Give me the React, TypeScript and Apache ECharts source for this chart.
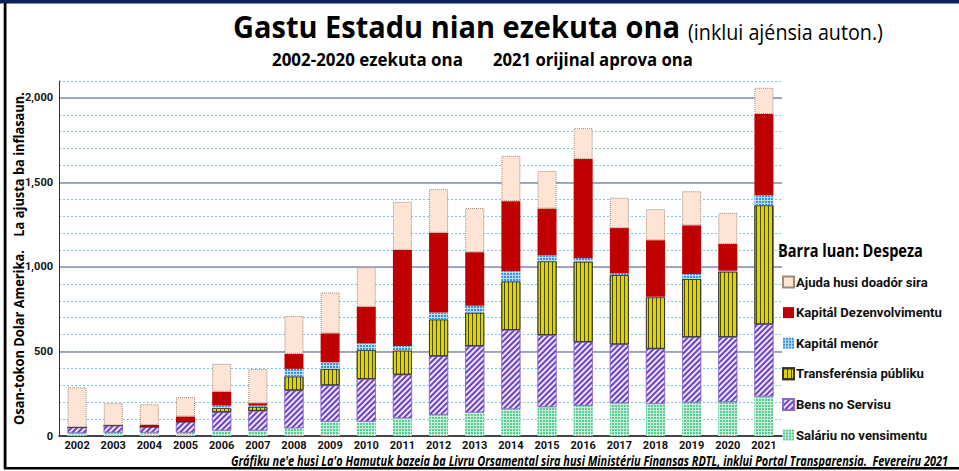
import React, { useEffect, useRef } from "react";
import * as echarts from "echarts";

const years = ["2002","2003","2004","2005","2006","2007","2008","2009","2010","2011","2012","2013","2014","2015","2016","2017","2018","2019","2020","2021"];
const salary = [17,20,20,20,32,32,46,85,85,105,125,139,159,171,179,194,190,198,200,234];
const goods = [34,42,35,65,109,117,224,215,252,258,347,393,468,426,377,348,326,387,385,427];
const transfers = [0,0,0,0,24,24,83,97,171,143,218,198,288,437,476,410,305,344,388,704];
const minorCapital = [0,0,0,0,15,7,44,39,40,26,40,40,59,35,20,10,3,29,5,59];
const devCapital = [0,0,10,30,82,14,89,171,216,569,472,317,415,276,587,268,334,288,158,481];
const donor = [237,132,123,115,165,203,224,242,234,284,258,262,268,223,182,179,184,202,184,155];

const seriesNames = {
  salary: "Saláriu no vensimentu",
  goods: "Bens no Servisu",
  transfers: "Transferénsia públiku",
  minor: "Kapitál menór",
  dev: "Kapitál Dezenvolvimentu",
  donor: "Ajuda husi doadór sira",
};
const legendOrder = [seriesNames.donor, seriesNames.dev, seriesNames.minor, seriesNames.transfers, seriesNames.goods, seriesNames.salary];

const TITLE_FONT = "'Open Sans', 'Noto Sans', sans-serif";
const FONT = "Roboto, 'Noto Sans', sans-serif";

let measureCtx: CanvasRenderingContext2D | null = null;
function measure(text: string, font: string): number {
  if (!measureCtx) measureCtx = document.createElement("canvas").getContext("2d");
  if (!measureCtx) return text.length * 7;
  measureCtx.font = font;
  return measureCtx.measureText(text).width;
}

function fitted(text: string, font: string, target: number) {
  const w = measure(text, font);
  return w > 0 ? target / w : 1;
}

export default function App() {
  const ref = useRef<HTMLDivElement>(null);
  useEffect(() => {
    if (!ref.current) return;
    const chart = echarts.init(ref.current, null, { renderer: "svg" });
    const solid = "#8a8fae";

    const legendSize = Math.min(14, 13 * fitted("Kapitál Dezenvolvimentu", `bold 13px ${FONT}`, 146));

    const base = (name: string, data: number[], itemStyle: any) => ({
      name,
      type: "bar",
      stack: "total",
      barWidth: 19,
      data,
      itemStyle,
      emphasis: { disabled: true },
    });

    const scaledText = (text: string, font: string, x: number, y: number, target: number, align: string, extra: any = {}) => ({
      type: "text",
      x,
      y,
      scaleX: fitted(text, font, target),
      silent: true,
      ...extra,
      style: { text, font, fill: "#000", align, verticalAlign: "middle" },
    });

    const titleFont = `bold 31px ${TITLE_FONT}`;
    const subFont = `21px ${TITLE_FONT}`;
    const sub2Font = `bold 17px ${TITLE_FONT}`;
    const legendTitleFont = `bold 17px ${TITLE_FONT}`;
    const yNameFont = `bold 14px ${TITLE_FONT}`;
    const captionFont = `italic bold 13.5px ${TITLE_FONT}`;
    const yName = "Osan-tokon Dolar Amerika.    La ajusta ba inflasaun.";
    const caption = "Gráfiku ne'e husi La'o Hamutuk bazeia ba Livru Orsamental sira husi Ministériu Finansas RDTL, inklui Portal Transparensia.  Fevereiru 2021";

    chart.setOption({
      animation: false,
      backgroundColor: "#ffffff",
      textStyle: { fontFamily: FONT },
      grid: { left: 59, right: 177, top: 81, bottom: 35, containLabel: false },
      xAxis: {
        type: "category",
        data: years,
        axisLine: { lineStyle: { color: "#222", width: 1.5 } },
        axisTick: { show: false },
        axisLabel: { fontFamily: FONT, fontSize: 11, fontWeight: "bold", color: "#111", margin: 4, interval: 0 },
      },
      yAxis: [
        {
          type: "value",
          min: 0,
          max: 2100,
          interval: 100,
          axisLine: { show: true, lineStyle: { color: "#333", width: 1 } },
          axisTick: { show: false },
          axisLabel: {
            fontFamily: FONT,
            fontSize: 11,
            fontWeight: "bold",
            color: "#111",
            margin: 6,
            formatter: (v: number) => (v % 500 === 0 ? v.toLocaleString("en-US") : ""),
          },
          splitLine: { show: true, lineStyle: { type: [2, 2], color: "#7ccbe8", width: 1 } },
        },
        {
          type: "value",
          min: 0,
          max: 2100,
          interval: 500,
          position: "left",
          axisLine: { show: false },
          axisTick: { show: false },
          axisLabel: { show: false },
          splitLine: {
            show: true,
            lineStyle: { color: [solid, solid, solid, solid, solid, "rgba(0,0,0,0)"], width: 1.5 },
          },
        },
      ],
      legend: {
        orient: "vertical",
        left: 777,
        top: 270,
        itemWidth: 11,
        itemHeight: 11,
        itemGap: 16.6,
        icon: "rect",
        data: legendOrder,
        textStyle: { fontFamily: FONT, fontSize: legendSize, lineHeight: 14, fontWeight: "bold", color: "#111", padding: [0, 0, 0, -3] },
        selectedMode: false,
      },
      series: [
        base(seriesNames.salary, salary, {
          color: "#c4efd8",
          decal: { symbol: "rect", symbolSize: 1, color: "#5ccb92", dashArrayX: [2, 1], dashArrayY: [2, 1], rotation: 0 },
        }),
        base(seriesNames.goods, goods, {
          color: "#ece4f8",
          borderColor: "#8a66d0",
          borderWidth: 0.6,
          decal: { symbol: "rect", symbolSize: 1, color: "#6e42c4", dashArrayX: [1, 0], dashArrayY: [1.8, 1.8], rotation: -Math.PI / 4 },
        }),
        base(seriesNames.transfers, transfers, {
          color: "#dcd500",
          borderColor: "#333",
          borderWidth: 0.8,
          decal: { symbol: "rect", symbolSize: 1, color: "rgba(40,40,0,0.8)", dashArrayX: [0.9, 2.4], dashArrayY: [4, 0], rotation: 0 },
        }),
        base(seriesNames.minor, minorCapital, {
          color: "#b4ddf8",
          decal: { symbol: "rect", symbolSize: 1, color: "#3d8fe0", dashArrayX: [2, 1], dashArrayY: [2, 1], rotation: 0 },
        }),
        base(seriesNames.dev, devCapital, { color: "#c00000" }),
        base(seriesNames.donor, donor, {
          color: "#fde4d4",
          borderColor: "#a08878",
          borderWidth: 1,
          borderType: "dotted",
        }),
      ],
      graphic: [
        { type: "rect", shape: { x: 0, y: 0, width: 959, height: 3.5 }, style: { fill: "#0b2160" }, silent: true },
        { type: "rect", shape: { x: 3, y: 3, width: 1, height: 466 }, style: { fill: "#aaaaaa" }, silent: true },
        { type: "rect", shape: { x: 4, y: 3, width: 2.5, height: 466 }, style: { fill: "#000" }, silent: true },
        { type: "rect", shape: { x: 4, y: 467, width: 955, height: 2.5 }, style: { fill: "#000" }, silent: true },
        scaledText("Gastu Estadu nian ezekuta ona", titleFont, 233, 26, 447, "left"),
        scaledText("(inklui ajénsia auton.)", subFont, 688, 31.5, 195, "left"),
        scaledText("2002-2020 ezekuta ona", sub2Font, 272, 59, 191, "left"),
        scaledText("2021 orijinal aprova ona", sub2Font, 493, 59, 200, "left"),
        scaledText(yName, yNameFont, 19, 258.5, 333, "center", { rotation: Math.PI / 2 }),
        scaledText("Barra luan: Despeza", legendTitleFont, 778, 251, 145, "left"),
        scaledText(caption, captionFont, 948, 461, 718, "right"),
      ],
    });
    return () => chart.dispose();
  }, []);
  return <div ref={ref} style={{ position: "absolute", left: 0, top: 0, width: 959, height: 471 }} />;
}
